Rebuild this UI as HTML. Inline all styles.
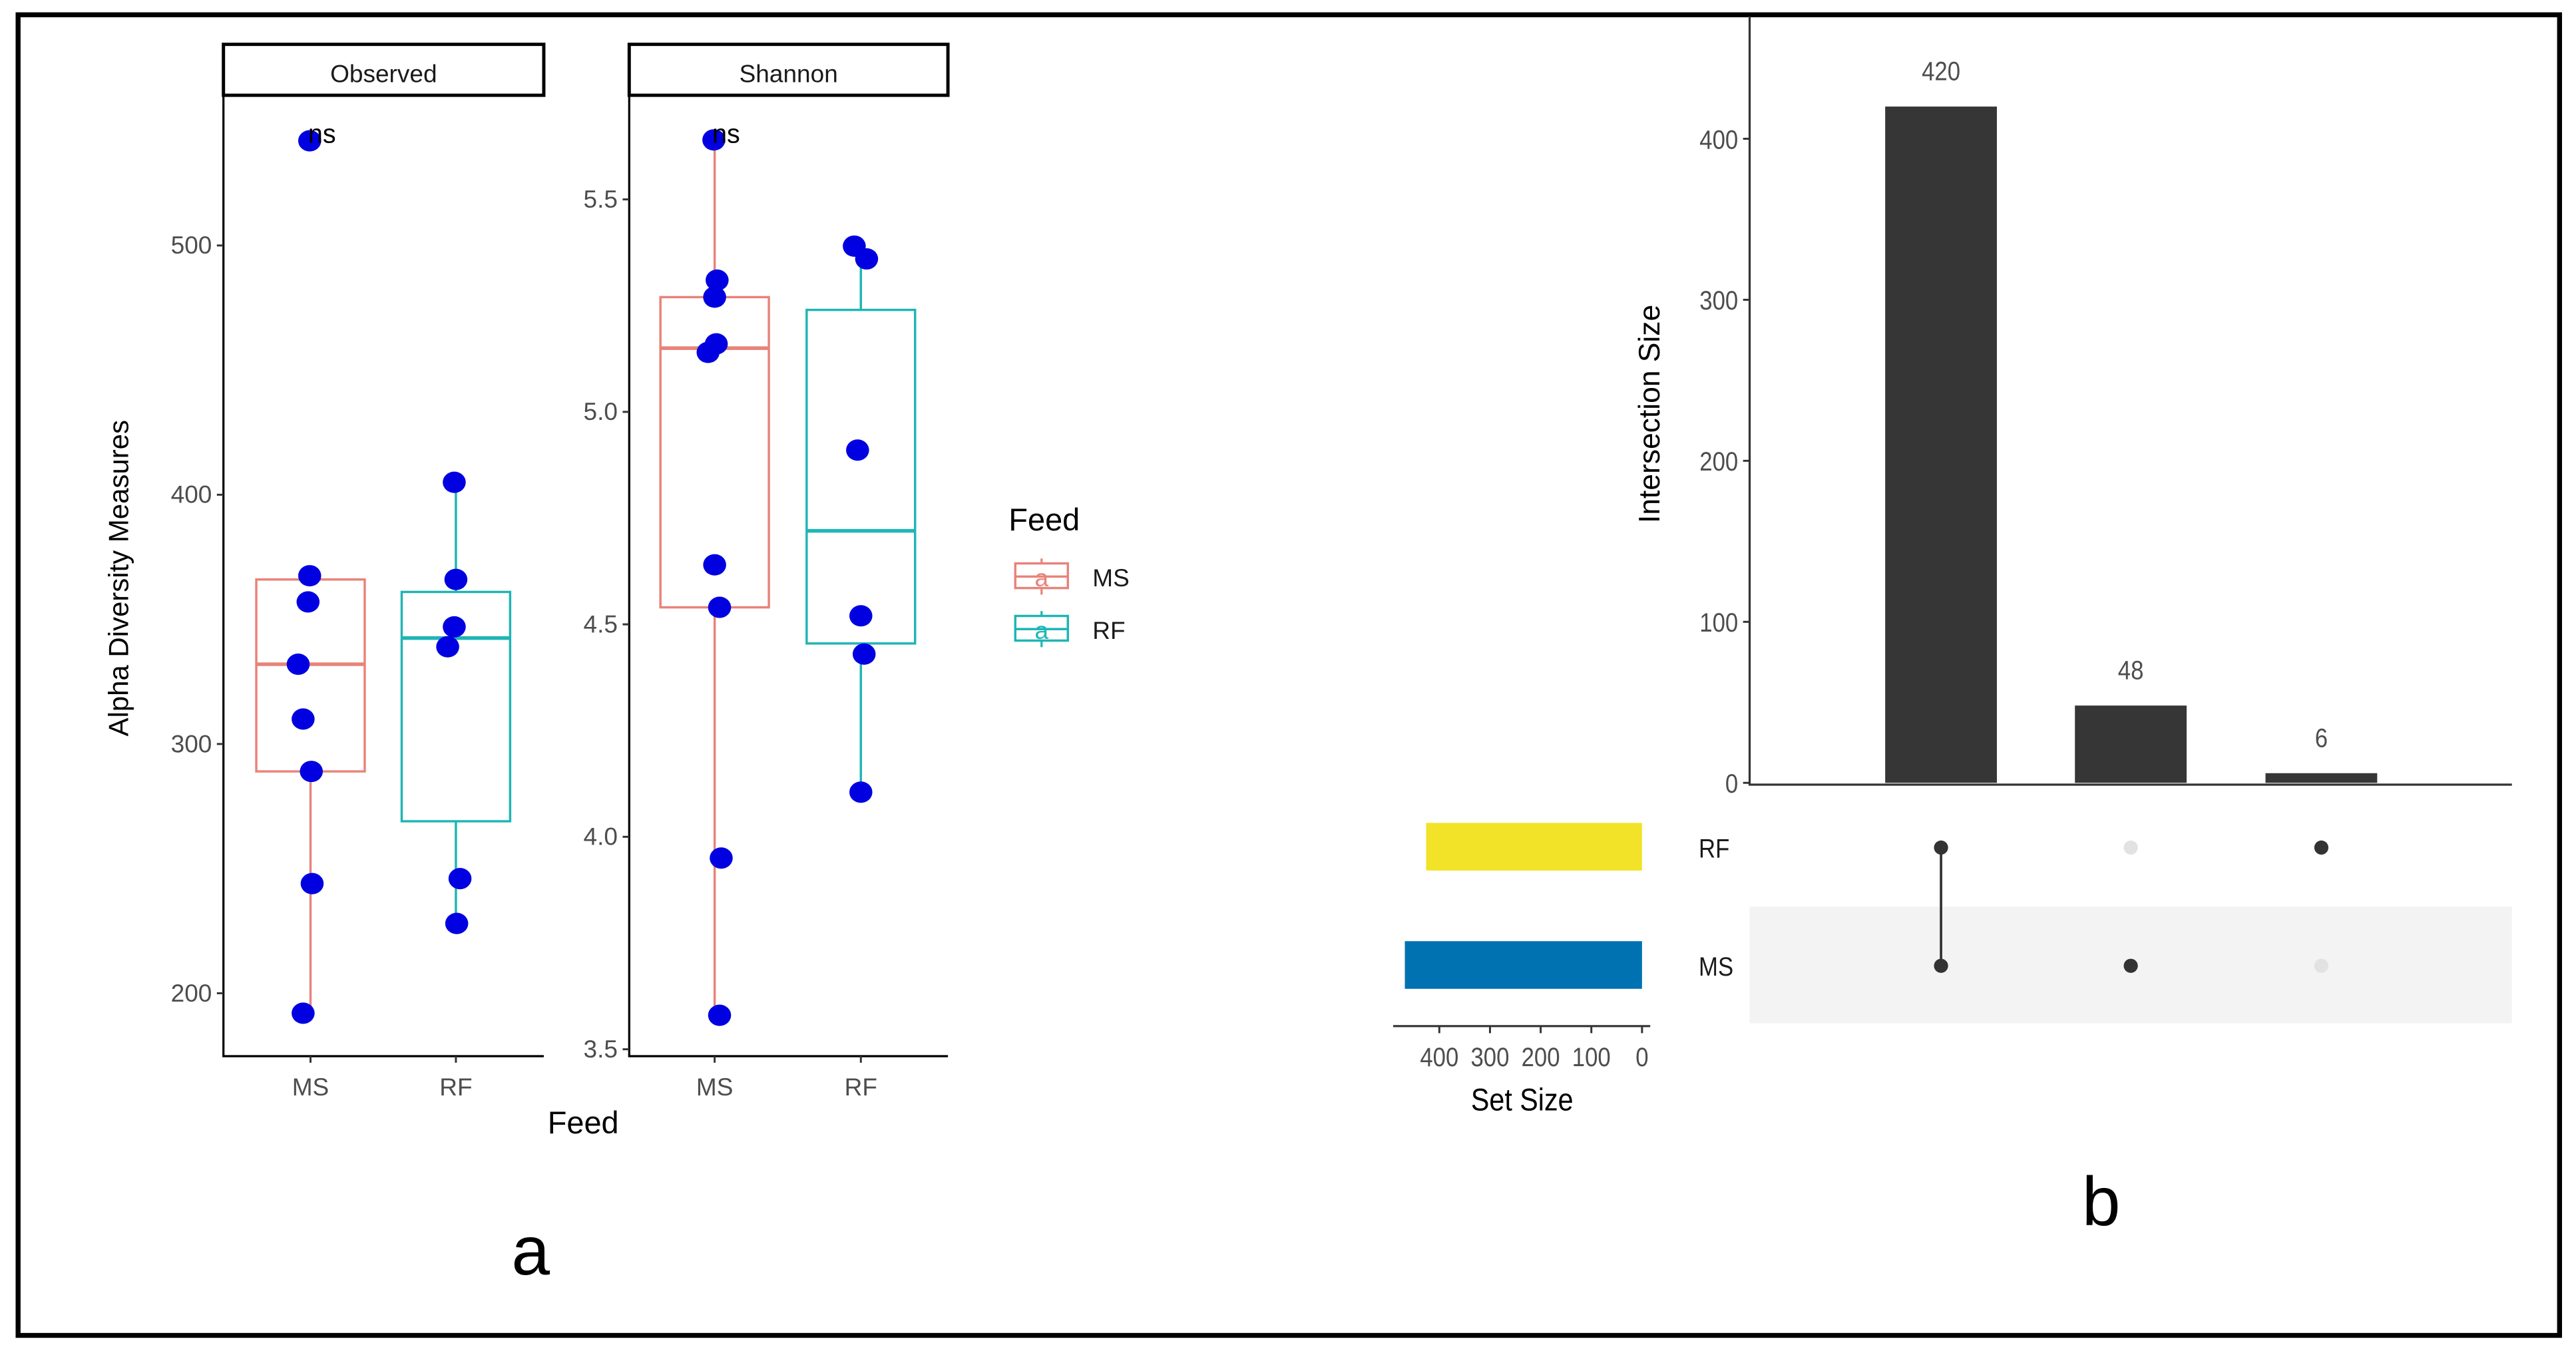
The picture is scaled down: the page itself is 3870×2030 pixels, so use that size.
<!DOCTYPE html>
<html><head><meta charset="utf-8"><style>
html,body{margin:0;padding:0;background:#fff}
svg{display:block}
text{font-family:"Liberation Sans",Arial,sans-serif}
</style></head><body>
<svg id="fig" width="3870" height="2030" viewBox="0 0 1568 822.5" xmlns="http://www.w3.org/2000/svg">
<rect x="0" y="0" width="1568" height="822.5" fill="#fff"/>
<rect x="11" y="9" width="1547" height="804" fill="none" stroke="#000" stroke-width="3"/>
<g id="pa"></g>
<g id="pb"></g>
</svg>
<script>
// ---- Panel a data ----
const groups = ["MS","RF"];
const obsMS = [542, 367.5, 357, 332, 310, 289, 244, 192];
const obsRF = [405, 366, 347, 339, 246, 228];
const obsBoxMS = [192, 289, 332, 366, 368];   // lower whisker, Q1, median, Q3, upper whisker
const obsBoxRF = [228, 269, 342.5, 361, 405];
const shaMS = [5.64, 5.31, 5.27, 5.16, 5.14, 4.64, 4.54, 3.95, 3.58];
const shaRF = [5.39, 5.36, 4.91, 4.52, 4.43, 4.105];
const shaBoxMS = [3.58, 4.54, 5.15, 5.27, 5.64];
const shaBoxRF = [4.105, 4.455, 4.72, 5.24, 5.39];
const obsTicks = [200, 300, 400, 500];
const shaTicks = [3.5, 4.0, 4.5, 5.0, 5.5];
const obsJitter = [-0.5, -0.5, -1.5, -7.5, -4.5, 0.5, 1, -4.5];
const obsJitterRF = [-1, 0, -1, -5, 2.5, 0.5];
const shaJitter = [-0.5, 1.5, 0, 1, -4, 0, 3, 4, 3];
const shaJitterRF = [-4, 3.5, -2, 0, 2, 0];
// ---- Panel b data ----
const interSizes = [420, 48, 6];
const interTicks = [0, 100, 200, 300, 400];
const sets = ["RF","MS"];
const setSizes = [426, 468];
const setTicks = [400, 300, 200, 100, 0];
const membership = [[1,1],[0,1],[1,0]]; // per intersection: [RF, MS]

const NS = "http://www.w3.org/2000/svg";
function mk(parent, tag, attrs, txt){
  const e = document.createElementNS(NS, tag);
  for (const k in attrs) e.setAttribute(k, attrs[k]);
  if (txt !== undefined) e.textContent = txt;
  parent.appendChild(e);
  return e;
}
const pa = document.getElementById('pa');
const pb = document.getElementById('pb');

function facet(x0, x1, title, yScale, ticks, fmt, boxes, pts, jit, catX){
  const top = 58, bottom = 643;
  const strip = mk(pa, 'rect', {x:x0, y:27, width:x1-x0, height:31, fill:'#fff', stroke:'#000', 'stroke-width':2});
  
  
  const st = mk(pa, 'text', {x:(x0+x1)/2, y:50, 'font-size':15, 'text-anchor':'middle', fill:'#1a1a1a'}, title);
  
  
  const ax = mk(pa, 'path', {d:`M${x0} ${top}V${bottom}H${x1}`, fill:'none', stroke:'#000', 'stroke-width':1.3});
  
  
  ticks.forEach(t => {
    const y = yScale(t);
    mk(pa, 'line', {x1:x0-4, x2:x0, y1:y, y2:y, stroke:'#333', 'stroke-width':1.2});
    const tl = mk(pa, 'text', {x:x0-7, y:y+5, 'font-size':15, 'text-anchor':'end', fill:'#4d4d4d'}, fmt(t));
    
    
  });
  const cols = ['#e8837a', '#1fb5b5'];
  groups.forEach((g, i) => {
    const cx = catX[i];
    mk(pa, 'line', {x1:cx, x2:cx, y1:bottom, y2:bottom+4, stroke:'#333', 'stroke-width':1.2});
    const xl = mk(pa, 'text', {x:cx, y:667, 'font-size':15, 'text-anchor':'middle', fill:'#4d4d4d'}, g);
    
    
    const b = boxes[i];
    const hw = 33;
    const c = cols[i];
    mk(pa, 'line', {x1:cx, x2:cx, y1:yScale(b[0]), y2:yScale(b[1]), stroke:c, 'stroke-width':1.4});
    mk(pa, 'line', {x1:cx, x2:cx, y1:yScale(b[3]), y2:yScale(b[4]), stroke:c, 'stroke-width':1.4});
    const bx = mk(pa, 'rect', {x:cx-hw, y:yScale(b[3]), width:2*hw, height:yScale(b[1])-yScale(b[3]), fill:'none', stroke:c, 'stroke-width':1.4});
    
    
    mk(pa, 'line', {x1:cx-hw, x2:cx+hw, y1:yScale(b[2]), y2:yScale(b[2]), stroke:c, 'stroke-width':2.2});
    pts[i].forEach((v, j) => {
      const p = mk(pa, 'ellipse', {cx:cx + jit[i][j], cy:yScale(v), rx:7, ry:6.5, fill:'#0000e0'});
      
      
    });
  });
  const ns = mk(pa, 'text', {x:catX[0]+7, y:87, 'font-size':16, 'text-anchor':'middle', fill:'#000'}, 'ns');
  
  
}
const yObs = v => 604.7 - (v - 200) * 1.5175;
const ySha = v => 638.8 - (v - 3.5) * 258.7;
facet(136, 331, 'Observed', yObs, obsTicks, t => String(t), [obsBoxMS, obsBoxRF], [obsMS, obsRF], [obsJitter, obsJitterRF], [189, 277.5]);
facet(383, 577, 'Shannon', ySha, shaTicks, t => t.toFixed(1), [shaBoxMS, shaBoxRF], [shaMS, shaRF], [shaJitter, shaJitterRF], [435, 524]);

let e;
e = mk(pa, 'text', {x:0, y:0, 'font-size':17, 'text-anchor':'middle', fill:'#000', transform:'translate(78 352) rotate(-90)'}, 'Alpha Diversity Measures');


e = mk(pa, 'text', {x:355, y:690, 'font-size':19, 'text-anchor':'middle', fill:'#000'}, 'Feed');


e = mk(pa, 'text', {x:614, y:323, 'font-size':19, fill:'#000'}, 'Feed');


[['MS','#e8837a',351],['RF','#1fb5b5',383]].forEach(([lab, c, y]) => {
  const g = mk(pa, 'g', {});
  
  
  mk(g, 'line', {x1:634, x2:634, y1:y-11, y2:y+11, stroke:c, 'stroke-width':1.3});
  mk(g, 'rect', {x:618, y:y-8, width:32, height:15, fill:'#fff', stroke:c, 'stroke-width':1.4});
  mk(g, 'line', {x1:618, x2:650, y1:y, y2:y, stroke:c, 'stroke-width':1.4});
  mk(g, 'text', {x:634, y:y+6, 'font-size':15, 'text-anchor':'middle', fill:c}, 'a');
  mk(g, 'text', {x:665, y:y+6, 'font-size':15, fill:'#1a1a1a'}, lab);
});
e = mk(pa, 'text', {x:323, y:776, 'font-size':42, 'text-anchor':'middle', fill:'#000'}, 'a');



// ---- Panel b ----
const yI = v => 476.6 - v * 0.9803;
const colX = [1181.5, 1297, 1413];
const rowY = [516, 588];
const xS = v => 999.5 - v * 0.3085;
e = mk(pb, 'rect', {x:1065, y:552, width:464, height:71, fill:'#f3f3f3'});


e = mk(pb, 'path', {d:'M1065 10V477.7H1529', fill:'none', stroke:'#333', 'stroke-width':1.3});


interTicks.forEach(t => {
  const y = yI(t);
  mk(pb, 'line', {x1:1061, x2:1065, y1:y, y2:y, stroke:'#333', 'stroke-width':1.2});
  const tl = mk(pb, 'text', {x:1058, y:y+6, 'font-size':16, 'text-anchor':'end', fill:'#4d4d4d', transform:`translate(${1058*0.12} 0) scale(0.88 1)`}, String(t));
  
  
});
interSizes.forEach((v, i) => {
  const b = mk(pb, 'rect', {x:colX[i]-34, y:yI(v), width:68, height:476.6-yI(v), fill:'#363636'});
  
  
  const l = mk(pb, 'text', {x:colX[i], y:yI(v)-16, 'font-size':16, 'text-anchor':'middle', fill:'#4d4d4d', transform:`translate(${colX[i]*0.12} 0) scale(0.88 1)`}, String(v));
  
  
});
e = mk(pb, 'text', {x:0, y:0, 'font-size':18, 'text-anchor':'middle', fill:'#000', transform:'translate(1010 252) rotate(-90)'}, 'Intersection Size');


membership.forEach((m, i) => {
  const on = rowY.filter((y, r) => m[r]);
  if (on.length > 1) mk(pb, 'line', {x1:colX[i], x2:colX[i], y1:Math.min(...on), y2:Math.max(...on), stroke:'#333', 'stroke-width':1.5});
  m.forEach((v, r) => {
    const d = mk(pb, 'circle', {cx:colX[i], cy:rowY[r], r:4.3, fill: v ? '#333' : '#e2e2e2'});
    
    
  });
});
const setCols = ['#f2e228', '#0072b2'];
sets.forEach((s, i) => {
  const b = mk(pb, 'rect', {x:xS(setSizes[i]), y:rowY[i]-15, width:999.5-xS(setSizes[i]), height:29, fill:setCols[i]});
  
  
  const l = mk(pb, 'text', {x:1034, y:rowY[i]+6, 'font-size':16, fill:'#1a1a1a', transform:`translate(${1034*0.12} 0) scale(0.88 1)`}, s);
  
  
});
e = mk(pb, 'line', {x1:848, x2:1004.5, y1:624.7, y2:624.7, stroke:'#333', 'stroke-width':1.3});


setTicks.forEach(t => {
  const x = xS(t);
  mk(pb, 'line', {x1:x, x2:x, y1:624.7, y2:629, stroke:'#333', 'stroke-width':1.2});
  const tl = mk(pb, 'text', {x:x, y:649, 'font-size':16, 'text-anchor':'middle', fill:'#4d4d4d', transform:`translate(${x*0.12} 0) scale(0.88 1)`}, String(t));
  
  
});
e = mk(pb, 'text', {x:926.5, y:676, 'font-size':19, 'text-anchor':'middle', fill:'#000', transform:`translate(${926.5*0.12} 0) scale(0.88 1)`}, 'Set Size');


e = mk(pb, 'text', {x:1279, y:746, 'font-size':42, 'text-anchor':'middle', fill:'#000'}, 'b');


</script>
</body></html>
